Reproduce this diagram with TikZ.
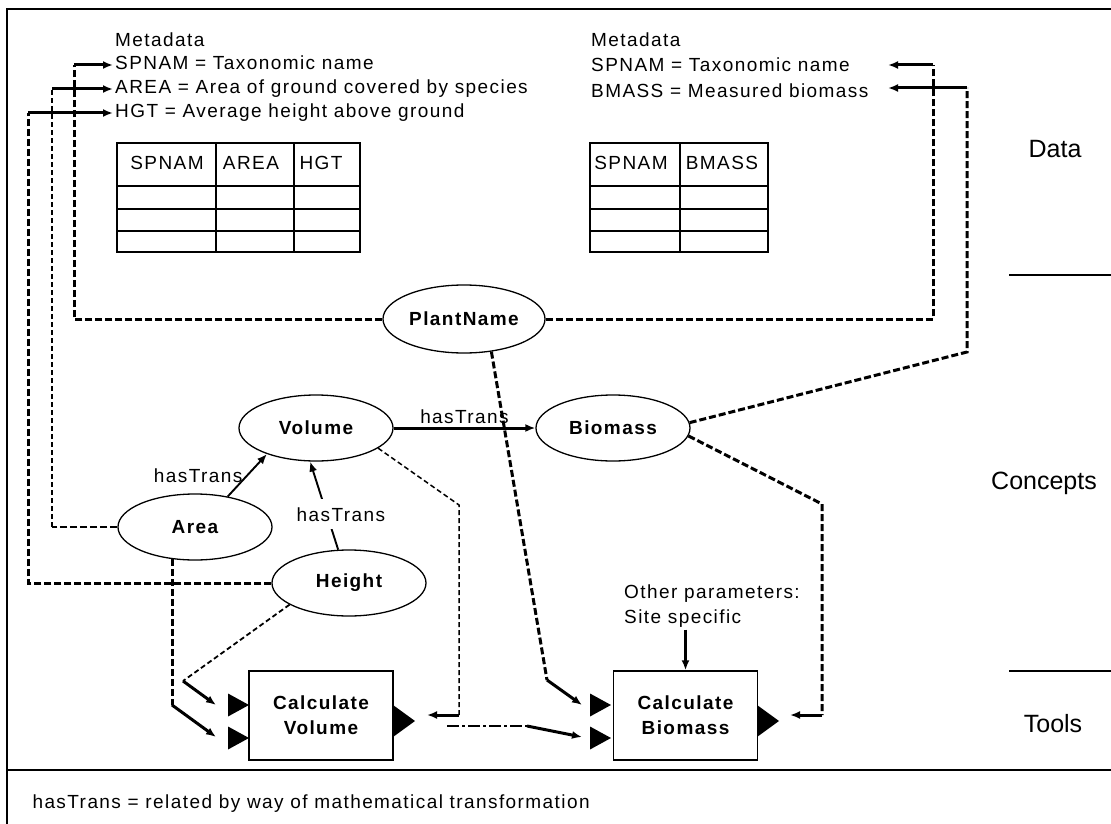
\documentclass[tikz,border=0pt]{standalone}
\usepackage{fontspec}
\setmainfont{Liberation Sans}[LetterSpace=7.5]
\newfontfamily\bandfont{Liberation Sans}
\usetikzlibrary{shapes.geometric,arrows.meta}
\newcommand{\txtsize}{\fontsize{19pt}{24pt}\selectfont}
\begin{document}
\begin{tikzpicture}[x=1pt,y=-1pt,font=\txtsize,>={Latex[length=10pt,width=8pt]}]
	\tikzstyle{concept}=[draw,ellipse,line width=1.3pt,minimum width=154pt,minimum height=66pt,inner sep=0pt,font=\txtsize\bfseries];
	\tikzstyle{tool}=[draw,rectangle,line width=1.5pt,minimum width=144pt,minimum height=89pt,align=center,font=\fontsize{19pt}{25pt}\selectfont\bfseries];
	\tikzstyle{txt}=[anchor=west,inner sep=2pt,text height=13pt,text depth=4pt];
	\tikzstyle{band}=[font=\bandfont\fontsize{25pt}{30pt}\selectfont];
	\tikzstyle{thickdash}=[line width=3pt,dash pattern=on 7pt off 3pt];
	\tikzstyle{thindash}=[line width=1.3pt,dash pattern=on 5pt off 3pt];
	\tikzstyle{arr}=[->,line width=3pt];
	\useasboundingbox (0,0) rectangle (1111,824);
	\draw[line width=2pt] (7,824) -- (7,9) -- (1111,9);
	\draw[line width=1.6pt] (7,770) -- (1111,770);
	\draw[line width=1.3pt] (1009,275) -- (1111,275) (1009,671) -- (1111,671);
	\node[band] (data) at (1055,149) {Data};
	\node[band] (conc) at (1044,483) {Concepts};
	\node[band] (tls) at (1053,724) {Tools};
	\node[anchor=west] (foot) at (29,804) {hasTrans = related by way of mathematical transformation};
	\node[txt] (mdL) at (113,42) {Metadata};
	\node[txt] (spL) at (113,65) {SPNAM = Taxonomic name};
	\node[txt] (arL) at (113,89) {AREA = Area of ground covered by species};
	\node[txt] (hgL) at (113,113) {HGT = Average height above ground};
	\node[txt] (mdR) at (589,42) {Metadata};
	\node[txt] (spR) at (589,67) {SPNAM = Taxonomic name};
	\node[txt] (bmR) at (589,93) {BMASS = Measured biomass};
	\draw[line width=1.6pt] (117,143) rectangle (360,252) (216,143) -- (216,252) (294,143) -- (294,252);
	\draw[line width=1.6pt] (590,143) rectangle (768,252) (680,143) -- (680,252);
	\foreach \r in {186,209,231} {
		\draw[line width=1.6pt] (117,\r) -- (360,\r) (590,\r) -- (768,\r);
	}
	\node (hL1) at (167,163) {SPNAM};
	\node (hL2) at (251,163) {AREA};
	\node (hL3) at (321,163) {HGT};
	\node (hR1) at (631,163) {SPNAM};
	\node (hR2) at (722,163) {BMASS};
	\node[concept,minimum width=162pt,minimum height=68pt] (pn) at (464,319) {PlantName};
	\node[concept] (vol) at (316,428) {Volume};
	\node[concept] (bm) at (613,428) {Biomass};
	\node[concept] (ar) at (195,527) {Area};
	\node[concept] (ht) at (349,583) {Height};
	\node[tool] (cv) at (321,715.5) {Calculate\\Volume};
	\node[tool] (cb) at (685.5,715.5) {Calculate\\Biomass};
	\node[anchor=west,inner sep=2pt,align=left,font=\fontsize{19pt}{25pt}\selectfont] (op) at (622,606) {Other parameters:\\Site specific};
	\foreach \x in {228,590} {
		\foreach \y in {705,738} {
			\fill ({\x},{\y-11.5}) -- ({\x+21},{\y}) -- ({\x},{\y+11.5}) -- cycle;
		}
	}
	\foreach \x in {393,757} {
		\fill (\x,705) -- ({\x+22},721) -- (\x,737) -- cycle;
	}
	\coordinate (tipS) at (888,65);
	\coordinate (tipB) at (888,88);
	\coordinate (cvA) at (216,705);
	\coordinate (cvB) at (216,737);
	\coordinate (cvo) at (427,715);
	\coordinate (cvx) at (447,726);
	\coordinate (cbA) at (582,705);
	\coordinate (cbB) at (582,737);
	\coordinate (cbo) at (790,715);
	\draw[thickdash] (pn.west) -| (74,65);
	\draw[arr] (74,65) -- (spL.west);
	\draw[thickdash,line width=2.2pt] (ar.west) -- (52,527);
	\draw[thindash] (52,527) -- (52,89);
	\draw[arr] (52,89) -- (arL.west);
	\draw[thickdash] (ht.west) -| (28,113);
	\draw[arr] (28,113) -- (hgL.west);
	\draw[thickdash] (pn.east) -| (933,65);
	\draw[arr] (933,65) -- (tipS);
	\draw[thickdash] (bm.4) -- (967,352) -- (967,88);
	\draw[arr] (967,88) -- (tipB);
	\draw[thickdash] (bm.-6) -- (822,504) -- (822,715);
	\draw[arr] (822,715) -- (cbo);
	\draw[thindash,line width=1.5pt] (vol.-18) -- (459,505) -- (459,715);
	\draw[arr] (459,715) -- (cvo);
	\draw[line width=2.6pt,dash pattern=on 12pt off 3pt on 3pt off 3pt] (cvx) -- (527,726);
	\draw[arr] (527,726) -- (cbB);
	\draw[thickdash] (pn.-50) -- (547,680);
	\draw[arr] (547,680) -- (cbA);
	\draw[thickdash] (ar.-125) |- (172,705);
	\draw[arr] (172,705) -- (cvB);
	\draw[thindash,line width=1.8pt] (ht.-160) -- (183,681);
	\draw[arr] (183,681) -- (cvA);
	\draw[arr] (cb.north |- op.south) -- (cb.north);
	\draw[arr] (vol.east) -- node[above,inner sep=3pt] (t1) {hasTrans} (bm.west);
	\draw[->,line width=1.9pt] (ar.43) -- node[left,pos=0.5,inner sep=4pt] (t2) {hasTrans} (vol.-152);
	\draw[->,line width=1.9pt] (ht.108) -- node[pos=0.4,xshift=14pt,fill=white,inner xsep=1pt,inner ysep=8pt] (t3) {hasTrans} (vol.-100);
\end{tikzpicture}
\end{document}
